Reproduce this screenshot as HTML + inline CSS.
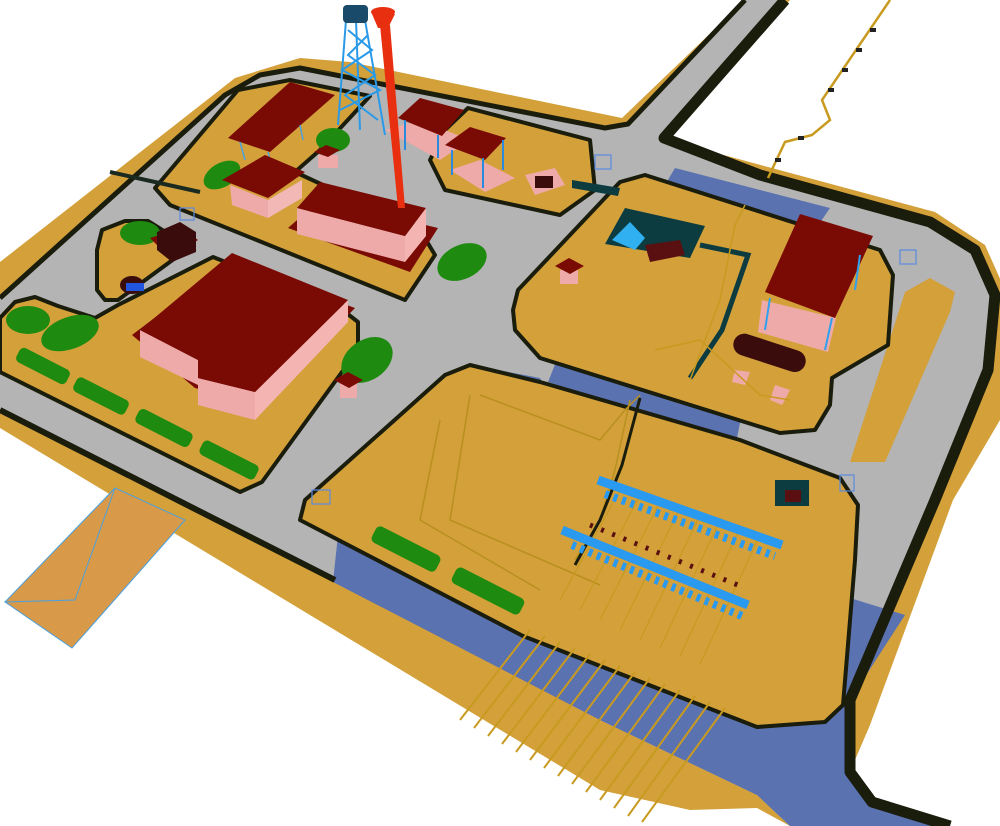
<!DOCTYPE html>
<html><head><meta charset="utf-8"><style>html,body{margin:0;padding:0;background:#fff}svg{display:block}</style></head>
<body>
<svg width="1000" height="826" viewBox="0 0 1000 826" xmlns="http://www.w3.org/2000/svg">
<!-- base -->
<polygon fill="#d3a03a" points="0,262 235,78 300,58 350,62 622,118 745,0 790,0 668,140 935,212 985,245 1005,290 1000,420 953,500 870,725 855,760 850,826 790,826 757,808 690,810 600,790 0,428"/>
<!-- pier -->
<polygon fill="#d89a48" points="5,602 115,488 185,520 72,648"/>
<polyline fill="none" stroke="#4aa0e0" stroke-width="1" points="5,602 115,488 185,520 72,648 5,602 75,600 115,488"/>
<!-- gray road region -->
<polygon fill="#b4b4b4" points="0,298 225,95 260,75 300,68 605,128 628,124 745,0 785,0 664,138 760,175 930,222 975,250 998,295 990,370 935,500 850,700 850,770 870,800 945,826 790,826 757,795 600,720 335,580 0,410"/>
<!-- blue roads -->
<polygon fill="#5a72b0" points="333,582 338,535 780,720 850,598 905,615 850,700 848,775 870,800 945,826 790,826 757,795 600,720"/>
<polygon fill="#5a72b0" points="560,352 640,373 742,413 735,448 620,408 548,382"/>
<polygon fill="#5a72b0" points="488,368 540,378 552,402 500,400"/>
<polygon fill="#5a72b0" points="675,168 830,208 815,230 662,190"/>
<!-- outer black edges -->
<polyline fill="none" stroke="#1a1c0c" stroke-width="5" stroke-linejoin="round" points="0,298 225,95 260,75 300,68 605,128 628,124 745,0"/>
<polyline fill="none" stroke="#1a1c0c" stroke-width="11" stroke-linejoin="round" points="785,0 664,138 760,175 930,222 975,250 995,295 988,370 935,500 850,700 850,772 872,802 950,826"/>
<polyline fill="none" stroke="#1a1c0c" stroke-width="6" points="0,410 335,580"/>
<!-- right strip -->
<polygon fill="#d3a03a" points="930,278 955,292 950,312 885,462 850,462 905,292"/>
<!-- blocks -->
<g fill="#d3a03a" stroke="#1a1c0c" stroke-width="4" stroke-linejoin="round">
<polygon points="155,188 238,90 290,80 370,96 320,150 295,172 420,230 435,255 405,300 170,205"/>
<polygon points="430,160 445,130 468,108 590,140 595,190 560,215 445,190"/>
<polygon points="97,250 102,230 125,221 148,221 175,238 178,256 118,300 105,300 97,290"/>
<polygon points="0,372 0,318 15,302 35,297 58,306 95,318 118,305 213,257 340,308 358,322 358,350 262,482 240,492"/>
<polygon points="513,310 518,290 620,182 645,175 880,250 893,275 888,345 832,378 830,405 815,430 780,433 540,358 515,330"/>
<polygon points="300,520 305,500 445,375 470,365 540,382 740,440 840,478 858,505 855,560 843,705 825,722 757,727 523,636"/>
</g>
<!-- green areas -->
<g fill="#1e8a10">
<ellipse cx="333" cy="140" rx="17" ry="12"/>
<ellipse cx="222" cy="175" rx="20" ry="12" transform="rotate(-30 222 175)"/>
<ellipse cx="462" cy="262" rx="26" ry="17" transform="rotate(-25 462 262)"/>
<ellipse cx="367" cy="360" rx="28" ry="20" transform="rotate(-35 367 360)"/>
<ellipse cx="28" cy="320" rx="22" ry="14"/>
<ellipse cx="70" cy="333" rx="30" ry="16" transform="rotate(-20 70 333)"/>
<ellipse cx="140" cy="233" rx="20" ry="12"/>
<rect x="15" y="358" width="56" height="16" rx="5" transform="rotate(27 43 366)"/>
<rect x="72" y="388" width="58" height="16" rx="5" transform="rotate(27 101 396)"/>
<rect x="134" y="420" width="60" height="16" rx="5" transform="rotate(27 164 428)"/>
<rect x="198" y="452" width="62" height="16" rx="5" transform="rotate(27 229 460)"/>
<rect x="370" y="540" width="72" height="18" rx="5" transform="rotate(27 406 549)"/>
<rect x="450" y="582" width="76" height="18" rx="5" transform="rotate(27 488 591)"/>
</g>
<!-- pink pads -->
<g fill="#eeaaa8">
<polygon points="385,130 420,120 470,140 440,160"/>
<polygon points="450,170 480,160 515,178 485,192"/>
<polygon points="525,175 555,168 565,185 535,195"/>
</g>
<line x1="110" y1="172" x2="200" y2="192" stroke="#1a2a20" stroke-width="4"/>
<!-- long shed -->
<polygon fill="#7a0a04" points="228,138 290,82 335,95 270,152"/>
<line x1="240" y1="142" x2="245" y2="160" stroke="#4aa0e0" stroke-width="1.5"/>
<line x1="268" y1="152" x2="272" y2="168" stroke="#4aa0e0" stroke-width="1.5"/>
<line x1="300" y1="125" x2="303" y2="140" stroke="#4aa0e0" stroke-width="1.5"/>
<!-- cabin -->
<polygon fill="#eeaaa8" points="230,185 268,200 268,218 232,205"/>
<polygon fill="#f2b8b6" points="268,200 302,180 302,198 268,218"/>
<polygon fill="#7a0a04" points="222,180 265,155 305,172 268,198"/>
<polygon fill="#eeaaa8" points="318,155 338,155 338,168 318,168"/>
<polygon fill="#7a0a04" points="314,152 326,145 340,150 328,157"/>
<!-- tower base building -->
<polygon fill="#7a0a04" points="288,228 320,200 438,228 410,272"/>
<polygon fill="#eeaaa8" points="297,208 405,236 405,262 297,234"/>
<polygon fill="#f4b4b2" points="405,236 426,208 426,236 405,262"/>
<polygon fill="#7a0a04" points="297,208 320,182 426,208 405,236"/>
<!-- tank block -->
<polygon fill="#7a0a04" points="150,238 182,228 198,240 170,258"/>
<polygon fill="#3a0c0c" points="157,232 180,222 196,232 196,252 172,262 157,250"/>
<ellipse cx="132" cy="285" rx="12" ry="9" fill="#3a0c0c"/>
<rect x="126" y="283" width="18" height="8" fill="#2255dd"/>
<!-- big building -->
<polygon fill="#7a0a04" points="132,335 228,262 355,308 262,405 195,388"/>
<polygon fill="#eeaaa8" points="140,330 198,360 198,385 140,357"/>
<polygon fill="#eeaaa8" points="198,378 255,392 255,420 198,405"/>
<polygon fill="#f4b4b2" points="255,392 348,300 348,322 255,420"/>
<polygon fill="#7a0a04" points="140,330 232,253 348,300 255,392 198,378 198,360"/>
<!-- huts -->
<polygon fill="#eeaaa8" points="340,382 357,382 357,398 340,398"/>
<polygon fill="#7a0a04" points="334,380 348,372 363,380 349,388"/>
<polygon fill="#eeaaa8" points="560,270 578,270 578,284 560,284"/>
<polygon fill="#7a0a04" points="555,266 569,258 584,266 570,274"/>
<!-- pavilions -->
<polygon fill="#7a0a04" points="398,118 420,98 464,110 442,136"/>
<polygon fill="#7a0a04" points="445,145 470,127 506,138 485,160"/>
<g stroke="#2a8ae0" stroke-width="2"><line x1="405" y1="120" x2="405" y2="150"/><line x1="438" y1="135" x2="438" y2="158"/><line x1="452" y1="150" x2="452" y2="175"/><line x1="483" y1="158" x2="483" y2="188"/><line x1="503" y1="140" x2="503" y2="170"/></g>
<rect x="535" y="176" width="18" height="12" fill="#3a0c0c"/>
<polygon fill="#0c3c40" points="572,180 620,188 618,196 572,188"/>
<!-- water tower -->
<g stroke="#2a9ae8" stroke-width="2" fill="none">
<line x1="346" y1="20" x2="338" y2="125"/><line x1="365" y1="20" x2="385" y2="135"/><line x1="356" y1="20" x2="360" y2="130"/>
<polyline points="340,110 380,90 342,70 372,50 348,30"/>
<polyline points="378,120 345,95 375,75 348,55 368,35"/>
</g>
<rect x="343" y="5" width="25" height="18" rx="4" fill="#1a4a6a"/>
<!-- flare -->
<polygon fill="#e83010" points="380,25 390,25 405,208 398,208"/>
<polygon fill="#e83010" points="372,14 395,14 388,28 378,28"/>
<ellipse cx="383" cy="12" rx="12" ry="5" fill="#e83010"/>
<!-- F area -->
<polygon fill="#0c3c40" points="625,208 705,226 690,258 605,244"/>
<polygon fill="#30b0f0" points="612,240 630,222 645,238 635,250"/>
<polygon fill="#5a1010" points="645,245 680,240 685,255 650,262"/>
<polyline fill="none" stroke="#0c3c40" stroke-width="5" points="700,245 748,255 722,330 690,378"/>
<polyline fill="none" stroke="#c89a20" stroke-width="1.5" points="745,205 735,225 720,300 690,380"/>
<polygon fill="#eeaaa8" points="762,300 836,318 828,352 758,332"/>
<polygon fill="#7a0a04" points="765,292 800,214 873,236 835,318"/>
<g stroke="#30a0f0" stroke-width="2"><line x1="770" y1="298" x2="765" y2="330"/><line x1="832" y1="318" x2="825" y2="350"/><line x1="860" y1="255" x2="855" y2="290"/></g>
<rect x="732" y="342" width="75" height="22" rx="11" fill="#3a0c0c" transform="rotate(18 770 353)"/>
<polygon fill="#eeaaa8" points="735,370 750,372 745,385 732,382"/>
<polygon fill="#eeaaa8" points="775,385 790,390 782,405 770,400"/>
<polyline fill="none" stroke="#c89a20" stroke-width="1.5" points="655,350 700,340 760,395 790,400"/>
<!-- top right pipeline -->
<polyline fill="none" stroke="#c89a20" stroke-width="2.5" points="768,178 785,142 812,135 830,120 822,100 890,0"/>
<g fill="#222"><rect x="775" y="158" width="6" height="4"/><rect x="798" y="136" width="6" height="4"/><rect x="828" y="88" width="6" height="4"/><rect x="842" y="68" width="6" height="4"/><rect x="856" y="48" width="6" height="4"/><rect x="870" y="28" width="6" height="4"/></g>
<!-- E area pipes -->
<g fill="none" stroke="#b8901e" stroke-width="1.5">
<polyline points="480,395 600,440 625,410 640,395"/>
<polyline points="470,395 450,520 600,585"/>
<polyline points="440,420 420,520 540,590"/>
<polyline points="630,400 615,470 600,520 575,560"/>
</g>
<polyline fill="none" stroke="#1a1c0c" stroke-width="3" points="640,398 622,465 600,520 575,565"/>
<rect x="775" y="480" width="34" height="26" fill="#0c3c40"/>
<rect x="785" y="490" width="16" height="12" fill="#5a1010"/>
<!-- manifolds -->
<g stroke="#c89a20" stroke-width="1.2">
<line x1="620" y1="490" x2="560" y2="600"/><line x1="640" y1="495" x2="580" y2="610"/><line x1="660" y1="502" x2="600" y2="620"/><line x1="680" y1="508" x2="620" y2="630"/><line x1="700" y1="515" x2="640" y2="640"/><line x1="720" y1="520" x2="660" y2="648"/><line x1="740" y1="528" x2="680" y2="656"/><line x1="760" y1="535" x2="700" y2="664"/>
</g>
<line x1="598" y1="480" x2="782" y2="545" stroke="#2a9af0" stroke-width="9"/>
<line x1="562" y1="530" x2="748" y2="605" stroke="#2a9af0" stroke-width="9"/>
<line x1="605" y1="494" x2="775" y2="556" stroke="#2a9af0" stroke-width="8" stroke-dasharray="4 5"/>
<line x1="572" y1="545" x2="742" y2="616" stroke="#2a9af0" stroke-width="8" stroke-dasharray="4 5"/>
<line x1="590" y1="525" x2="745" y2="588" stroke="#5a1010" stroke-width="5" stroke-dasharray="3 9"/>
<!-- bottom pipes -->
<g stroke="#c89a20" stroke-width="2">
<line x1="530" y1="630" x2="460" y2="720"/><line x1="545" y1="636" x2="474" y2="728"/><line x1="560" y1="642" x2="488" y2="736"/><line x1="575" y1="648" x2="502" y2="744"/><line x1="590" y1="654" x2="516" y2="752"/><line x1="605" y1="660" x2="530" y2="760"/><line x1="620" y1="666" x2="544" y2="768"/><line x1="635" y1="672" x2="558" y2="776"/><line x1="650" y1="678" x2="572" y2="784"/><line x1="665" y1="684" x2="586" y2="792"/><line x1="680" y1="690" x2="600" y2="800"/><line x1="695" y1="696" x2="614" y2="808"/><line x1="710" y1="702" x2="628" y2="816"/><line x1="725" y1="708" x2="642" y2="822"/>
</g>
<!-- fences -->
<g fill="none" stroke="#5a8ae0" stroke-width="1.2">
<rect x="312" y="490" width="18" height="14"/><rect x="595" y="155" width="16" height="14"/><rect x="900" y="250" width="16" height="14"/><rect x="840" y="475" width="14" height="16"/><rect x="180" y="208" width="14" height="12"/>
</g>
</svg>
</body></html>
